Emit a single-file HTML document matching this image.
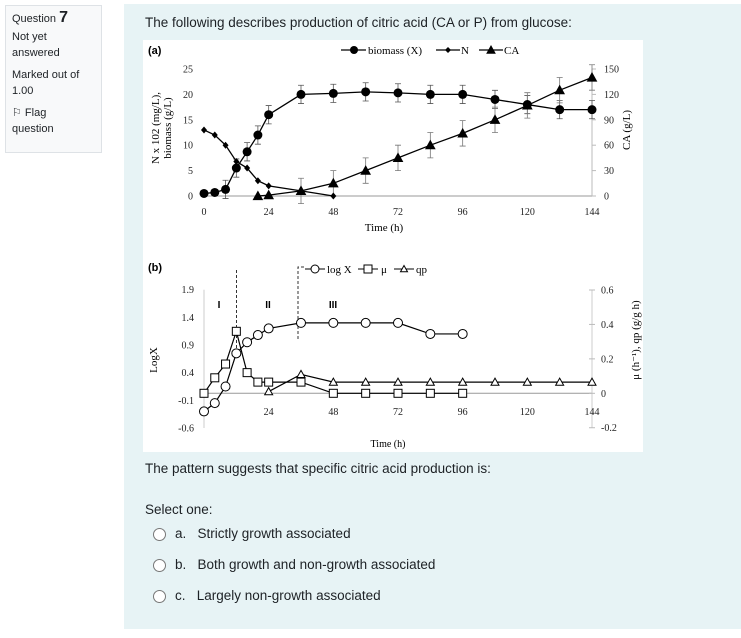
<!DOCTYPE html>
<html><head><meta charset="utf-8"><style>
body{margin:0;width:741px;height:638px;background:#fff;font-family:"Liberation Sans",sans-serif;position:relative;overflow:hidden;color:#1d2125}
.info{position:absolute;left:5px;top:5px;width:97px;height:148px;background:#f8f9fa;border:1px solid #dee2e6;font-size:11px;color:#1d2125;box-sizing:border-box;padding:4px 6px;line-height:16px}
.card{position:absolute;left:124px;top:4px;width:617px;height:625px;background:#e7f3f5}
.t{position:absolute;font-size:13.5px;color:#1d2125}
.radio{position:absolute;width:11px;height:11px;border:1px solid #777;border-radius:50%;background:#fff}
svg{position:absolute;left:0;top:0}
</style></head><body>
<div class="info">
<div>Question <b style="font-size:16px">7</b></div>
<div style="margin-top:2px">Not yet<br>answered</div>
<div style="margin-top:6px">Marked out of<br>1.00</div>
<div style="margin-top:6px">⚐ Flag<br>question</div>
</div>
<div class="card"></div>
<div class="t" style="left:145px;top:15px">The following describes production of citric acid (CA or P) from glucose:</div>
<div class="t" style="left:145px;top:461px">The pattern suggests that specific citric acid production is:</div>
<div class="t" style="left:145px;top:502px">Select one:</div>
<div class="radio" style="left:153px;top:528px"></div>
<div class="t" style="left:175px;top:526px">a.&nbsp;&nbsp; Strictly growth associated</div>
<div class="radio" style="left:153px;top:559px"></div>
<div class="t" style="left:175px;top:557px">b.&nbsp;&nbsp; Both growth and non-growth associated</div>
<div class="radio" style="left:153px;top:590px"></div>
<div class="t" style="left:175px;top:588px">c.&nbsp;&nbsp; Largely non-growth associated</div>
<svg id="s" width="741" height="638" font-family="Liberation Serif, serif"></svg>
<script>
const tA=[0,4,8,12,16,20,24,36,48,60,72,84,96,108,120,132,144];
const biomass=[0.5,0.7,1.3,5.5,8.7,12,16,20,20.2,20.5,20.3,20,20,19,18,17,17];
const tN=[0,4,8,12,16,20,24,36,48];
const nVals=[13,12,10,6.8,5.5,3,2,1,0];
const tCA=[20,24,36,48,60,72,84,96,108,120,132,144];
const caVals=[0,1,6,15,30,45,60,74,90,107,125,140];
const tLog=[0,4,8,12,16,20,24,36,48,60,72,84,96];
const logX=[-0.3,-0.15,0.15,0.75,0.95,1.08,1.2,1.3,1.3,1.3,1.3,1.1,1.1];
const tMu=[0,4,8,12,16,20,24,36,48,60,72,84,96];
const muVals=[0,0.09,0.17,0.36,0.12,0.065,0.065,0.065,0,0,0,0,0];
const tQp=[24,36,48,60,72,84,96,108,120,132,144];
const qpVals=[0.01,0.11,0.065,0.065,0.065,0.065,0.065,0.065,0.065,0.065,0.065];
const xTicks=[0,24,48,72,96,120,144];
const yTicksA=[0,5,10,15,20,25];
const y2TicksA=[0,30,60,90,120,150];
const yTicksB=[-0.6,-0.1,0.4,0.9,1.4,1.9];
const y2TicksB=[-0.2,0,0.2,0.4,0.6];

const S=document.getElementById('s');const NS='http://www.w3.org/2000/svg';
function el(tag,a,txt){const e=document.createElementNS(NS,tag);for(const k in a)e.setAttribute(k,a[k]);if(txt!==undefined)e.textContent=txt;S.appendChild(e);return e;}
const X=t=>204+t*(388/144);
const YA=v=>196-v*(127/25), Y2A=v=>196-v*(127/150);
const YB=v=>428-(v+0.6)*(138.3/2.5), Y2B=v=>393.3-v*(103.3/0.6);

let r=el('rect',{x:143,y:40,width:500,height:412,fill:'#fff'});



// chart a axes
let a=el('line',{x1:X(0),y1:YA(0),x2:X(144),y2:YA(0),stroke:'#999'});

let a2=el('line',{x1:X(144),y1:YA(0),x2:X(144),y2:YA(25),stroke:'#bbb'});

xTicks.forEach(t=>{const e=el('text',{x:X(t),y:215,'font-size':10,'text-anchor':'middle',fill:'#222'},t);});
yTicksA.forEach(v=>{const e=el('text',{x:193,y:YA(v)+3.5,'font-size':10,'text-anchor':'end',fill:'#222'},v);});
y2TicksA.forEach(v=>{el('line',{x1:X(144),x2:X(144)+4,y1:Y2A(v),y2:Y2A(v),stroke:'#bbb'});const e=el('text',{x:604,y:Y2A(v)+3.5,'font-size':10,fill:'#222'},v);});
let t1=el('text',{x:384,y:231,'font-size':11,'text-anchor':'middle'},'Time (h)');
let t2=el('text',{x:0,y:0,'font-size':11,'text-anchor':'middle',transform:'translate(159,128) rotate(-90)'},'N x 102 (mg/L),');
let t3=el('text',{x:0,y:0,'font-size':11,'text-anchor':'middle',transform:'translate(171,128) rotate(-90)'},'biomass (g/L)');
let t4=el('text',{x:0,y:0,'font-size':11,'text-anchor':'middle',transform:'translate(630,130) rotate(-90)'},'CA (g/L)');
let la=el('text',{x:148,y:54,'font-size':11,'font-weight':'bold','font-family':'Liberation Sans'},'(a)');

function path(xs,ys,fx,fy){return xs.map((t,i)=>(i?'L':'M')+fx(t)+','+fy(ys[i])).join('');}
// error bars
tA.forEach((t,i)=>{if(i<2)return;const e=el('path',{d:`M${X(t)},${YA(biomass[i]-1.8)}V${YA(biomass[i]+1.8)}M${X(t)-3},${YA(biomass[i]-1.8)}h6M${X(t)-3},${YA(biomass[i]+1.8)}h6`,stroke:'#555','stroke-width':0.8,fill:'none'});});
tCA.forEach((t,i)=>{if(i<2)return;const e=el('path',{d:`M${X(t)},${Y2A(caVals[i]-15)}V${Y2A(caVals[i]+15)}M${X(t)-3},${Y2A(caVals[i]-15)}h6M${X(t)-3},${Y2A(caVals[i]+15)}h6`,stroke:'#777','stroke-width':0.8,fill:'none'});});
let pb=el('path',{d:path(tA,biomass,X,YA),stroke:'#000','stroke-width':1.3,fill:'none'});
let pn=el('path',{d:path(tN,nVals,X,YA),stroke:'#000','stroke-width':1.3,fill:'none'});
let pc=el('path',{d:path(tCA,caVals,X,Y2A),stroke:'#000','stroke-width':1.3,fill:'none'});
function tri(x,y,s,fill){return el('path',{d:`M${x},${y-s}L${x+s},${y+s*0.8}L${x-s},${y+s*0.8}Z`,fill:fill,stroke:'#000','stroke-width':1});}
tA.forEach((t,i)=>{const e=el('circle',{cx:X(t),cy:YA(biomass[i]),r:4.5,fill:'#000'});});
tN.forEach((t,i)=>{const e=el('path',{d:`M${X(t)},${YA(nVals[i])-3.5}l3,3.5l-3,3.5l-3,-3.5Z`,fill:'#000'});});
tCA.forEach((t,i)=>{const e=tri(X(t),Y2A(caVals[i]),4.5,'#000');});
// legend a
let lg=el('g',{});
el('line',{x1:341,x2:366,y1:50,y2:50,stroke:'#000','stroke-width':1.3});el('circle',{cx:354,cy:50,r:4,fill:'#000'});
el('text',{x:368,y:54,'font-size':11},'biomass (X)');
el('line',{x1:436,x2:460,y1:50,y2:50,stroke:'#000','stroke-width':1.3});el('path',{d:'M448,47l3,3l-3,3l-3,-3Z',fill:'#000'});
el('text',{x:461,y:54,'font-size':11},'N');
el('line',{x1:479,x2:503,y1:50,y2:50,stroke:'#000','stroke-width':1.3});tri(491,50,4,'#000');
el('text',{x:504,y:54,'font-size':11},'CA');

// chart b
let b1=el('line',{x1:X(0),y1:Y2B(0),x2:X(144),y2:Y2B(0),stroke:'#999'});
let b2=el('line',{x1:X(0),y1:YB(1.9),x2:X(0),y2:YB(-0.6),stroke:'#ccc'});
let b3=el('line',{x1:X(144),y1:Y2B(0.6),x2:X(144),y2:Y2B(-0.2),stroke:'#ccc'});
xTicks.forEach(t=>{const e=el('text',{x:X(t),y:415,'font-size':10,'text-anchor':'middle',fill:'#222'},t);});
yTicksB.forEach(v=>{const e=el('text',{x:194,y:YB(v)+3.5,'font-size':10,'text-anchor':'end',fill:'#222'},v);});
y2TicksB.forEach(v=>{el('line',{x1:X(144)-3,x2:X(144)+3,y1:Y2B(v),y2:Y2B(v),stroke:'#bbb'});const e=el('text',{x:601,y:Y2B(v)+3.5,'font-size':10,fill:'#222'},v);});
let bt=el('text',{x:388,y:447,'font-size':10,'text-anchor':'middle'},'Time (h)');
let by=el('text',{x:0,y:0,'font-size':11,'text-anchor':'middle',transform:'translate(157,360) rotate(-90)'},'LogX');
let by2=el('text',{x:0,y:0,'font-size':11,'text-anchor':'middle',transform:'translate(639,340) rotate(-90)'},'μ (h⁻¹), qp (g/g h)');
let lb=el('text',{x:148,y:271,'font-size':11,'font-weight':'bold','font-family':'Liberation Sans'},'(b)');
let d1=el('line',{x1:236.5,x2:236.5,y1:270,y2:350,stroke:'#333','stroke-dasharray':'3,2'});
let d2=el('path',{d:'M298,339V267H305',stroke:'#333','stroke-dasharray':'3,2',fill:'none'});
[['I',219],['II',268],['III',333]].forEach(p=>{const e=el('text',{x:p[1],y:308,'font-size':10,'font-weight':'bold','font-family':'Liberation Sans','text-anchor':'middle'},p[0]);});
let pl=el('path',{d:path(tLog,logX,X,YB),stroke:'#000','stroke-width':1.2,fill:'none'});
let pm=el('path',{d:path(tMu,muVals,X,Y2B),stroke:'#000','stroke-width':1.2,fill:'none'});
let pq=el('path',{d:path(tQp,qpVals,X,Y2B),stroke:'#000','stroke-width':1.2,fill:'none'});
tQp.forEach((t,i)=>{const e=tri(X(t),Y2B(qpVals[i]),4,'#fff');});
tMu.forEach((t,i)=>{const e=el('rect',{x:X(t)-4,y:Y2B(muVals[i])-4,width:8,height:8,fill:'#fff',stroke:'#000'});});
tLog.forEach((t,i)=>{const e=el('circle',{cx:X(t),cy:YB(logX[i]),r:4.5,fill:'#fff',stroke:'#000'});});
// legend b
el('line',{x1:305,x2:325,y1:269,y2:269,stroke:'#000'});el('circle',{cx:315,cy:269,r:4,fill:'#fff',stroke:'#000'});
el('text',{x:327,y:273,'font-size':11},'log X');
el('line',{x1:358,x2:378,y1:269,y2:269,stroke:'#000'});el('rect',{x:364,y:265,width:8,height:8,fill:'#fff',stroke:'#000'});
el('text',{x:381,y:273,'font-size':11},'μ');
el('line',{x1:394,x2:414,y1:269,y2:269,stroke:'#000'});tri(404,269,3.5,'#fff');
el('text',{x:416,y:273,'font-size':11},'qp');
</script>
</body></html>
